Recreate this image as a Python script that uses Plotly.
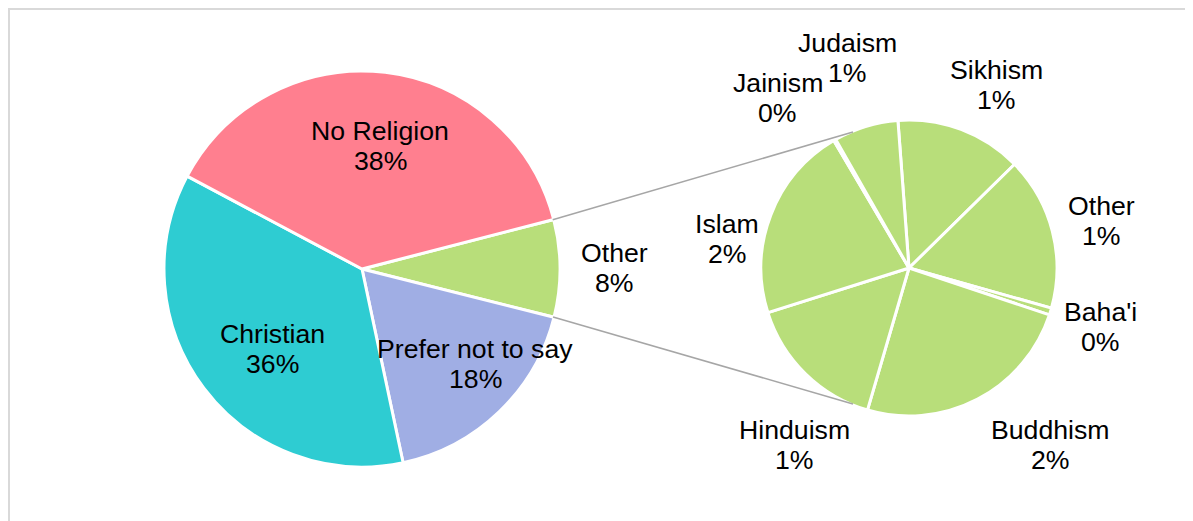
import math
import plotly.graph_objects as go

# ---------------- data (percent of all respondents) ----------------
main_labels = ["Other", "Prefer not to say", "Christian", "No Religion"]
main_values_known = [17.75, 36.1, 38.2]          # Prefer, Christian, No Religion
sub_labels = ["Sikhism", "Other", "Baha'i", "Buddhism", "Hinduism", "Islam", "Jainism", "Judaism"]
sub_values = [1.10, 1.33, 0.06, 1.94, 1.24, 1.70, 0.02, 0.56]

other_total = sum(sub_values)
main_values = [other_total] + main_values_known

main_colors = ["#B8DE7A", "#A0AEE4", "#2ECCD2", "#FF7F8F"]
sub_color = "#B8DE7A"

# ---------------- layout constants (pixels, figure coords) ----------------
W, H = 1193, 521
OFF = 8                        # page body margin
C1 = (362 - OFF, 269 - OFF); R1 = 197     # main pie
C2 = (909 - OFF, 268 - OFF); R2 = 147     # secondary pie
ROT1 = 75.5                   # start angle of first main slice (clockwise from 12 o'clock)
ROT2 = -4.3
CONNECT_DEG = 22.4            # where the connector lines meet the secondary pie
LINE_GAP = 15                 # half distance between the two lines of a label
FONT = dict(family="Liberation Sans, Arial, sans-serif", size=26.67, color="black")

# label placement: (radius factor, angle nudge in degrees)
main_label_pos = {"No Religion": (0.63, 1.7), "Christian": (0.61, -5),
                  "Prefer not to say": (0.75, -6), "Other": (1.28, 0)}
sub_label_pos = {"Judaism": (1.49, 0.6), "Jainism": (1.46, -7.6), "Sikhism": (1.38, 4.8),
                 "Other": (1.35, 0.8), "Baha'i": (1.36, 0), "Buddhism": (1.54, -11),
                 "Hinduism": (1.43, -11.5), "Islam": (1.25, -12)}


def domain(c, r):
    return dict(x=[(c[0] - r) / W, (c[0] + r) / W],
                y=[1 - (c[1] + r) / H, 1 - (c[1] - r) / H])


def polar(c, r, deg):
    a = math.radians(deg)
    return c[0] + r * math.sin(a), c[1] - r * math.cos(a)


def mid_angles(values, rot):
    tot = sum(values)
    out, cur = [], rot
    for v in values:
        span = v / tot * 360
        out.append(cur + span / 2)
        cur += span
    return out


grand_total = sum(main_values)

fig = go.Figure()
fig.add_trace(go.Pie(labels=main_labels, values=main_values, sort=False,
                     direction="clockwise", rotation=ROT1,
                     marker=dict(colors=main_colors, line=dict(color="white", width=3)),
                     textinfo="none", hoverinfo="label+percent",
                     domain=domain(C1, R1 + 1)))
fig.add_trace(go.Pie(labels=sub_labels, values=sub_values, sort=False,
                     direction="clockwise", rotation=ROT2,
                     marker=dict(colors=[sub_color] * len(sub_labels),
                                 line=dict(color="white", width=3)),
                     textinfo="none", hoverinfo="label+value",
                     domain=domain(C2, R2 + 1)))

annotations = []


def add_label(c, r, lab, v, m, pos):
    k, d = pos[lab]
    x, y = polar(c, k * r, m + d)
    for txt, dy in [(lab, -LINE_GAP), (f"{round(v / grand_total * 100)}%", LINE_GAP)]:
        annotations.append(dict(x=x / W, y=1 - (y + dy) / H, xref="paper", yref="paper",
                                text=txt, showarrow=False, font=FONT,
                                xanchor="center", yanchor="middle"))


for lab, v, m in zip(main_labels, main_values, mid_angles(main_values, ROT1)):
    add_label(C1, R1, lab, v, m, main_label_pos)
for lab, v, m in zip(sub_labels, sub_values, mid_angles(sub_values, ROT2)):
    add_label(C2, R2, lab, v, m, sub_label_pos)

# connector lines from the edges of the main "Other" slice to the secondary pie
other_span = main_values[0] / grand_total * 360
a_top = polar(C1, R1, ROT1)
a_bot = polar(C1, R1, ROT1 + other_span)
b_top = polar(C2, R2, -CONNECT_DEG)
b_bot = polar(C2, R2, 180 + CONNECT_DEG)
shapes = []
for p, q in [(a_top, b_top), (a_bot, b_bot)]:
    shapes.append(dict(type="line", xref="paper", yref="paper",
                       x0=p[0] / W, y0=1 - p[1] / H, x1=q[0] / W, y1=1 - q[1] / H,
                       line=dict(color="#A6A6A6", width=1.5)))
# chart frame (only top and left edges fall inside the view)
shapes.append(dict(type="rect", xref="paper", yref="paper",
                   x0=1 / W, x1=1.1, y0=-0.1, y1=1 - 1 / H,
                   line=dict(color="#D9D9D9", width=2), fillcolor="rgba(0,0,0,0)",
                   layer="below"))

fig.update_layout(width=W, height=H, margin=dict(l=0, r=0, t=0, b=0),
                  paper_bgcolor="white", plot_bgcolor="white", showlegend=False,
                  annotations=annotations, shapes=shapes)

fig.write_html("out.html")
